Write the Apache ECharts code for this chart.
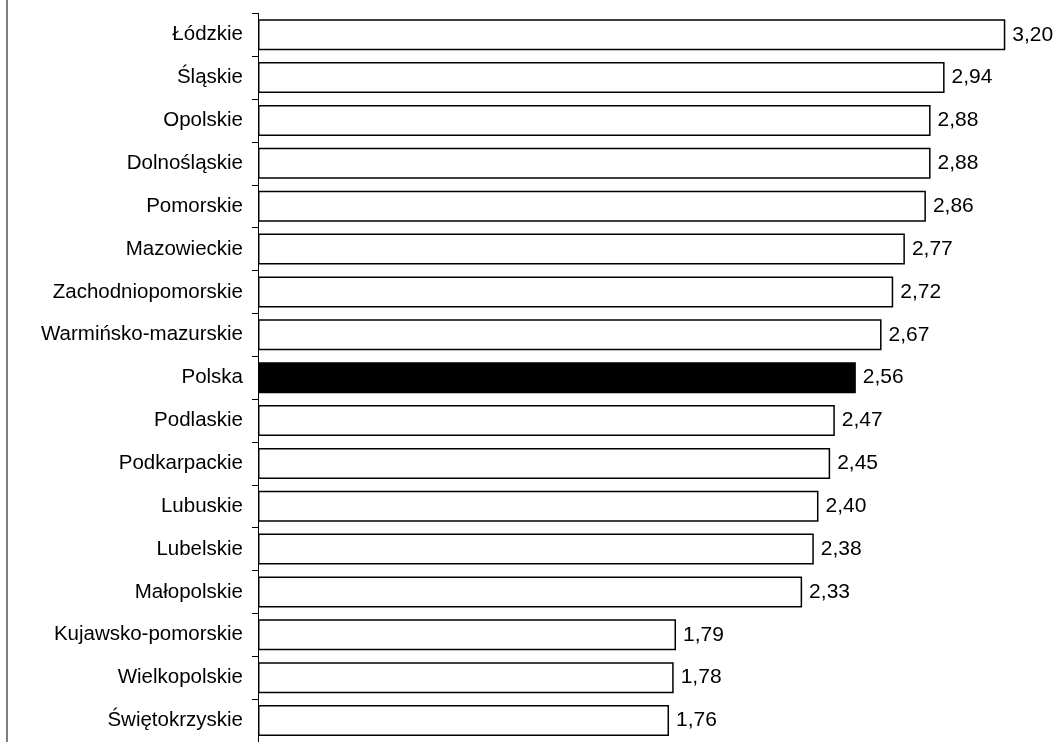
<!DOCTYPE html>
<html>
<head>
<meta charset="utf-8">
<script src="https://cdn.jsdelivr.net/npm/echarts@6/dist/echarts.min.js"></script>
<style>
html,body{margin:0;padding:0;background:#fff;}
#chart{width:1063px;height:742px;}
</style>
</head>
<body>
<div id="chart"></div>
<script>
const categories = ["Łódzkie","Śląskie","Opolskie","Dolnośląskie","Pomorskie","Mazowieckie","Zachodniopomorskie","Warmińsko-mazurskie","Polska","Podlaskie","Podkarpackie","Lubuskie","Lubelskie","Małopolskie","Kujawsko-pomorskie","Wielkopolskie","Świętokrzyskie"];
const values = [3.20,2.94,2.88,2.88,2.86,2.77,2.72,2.67,2.56,2.47,2.45,2.40,2.38,2.33,1.79,1.78,1.76];
const highlight = "Polska";

const chart = echarts.init(document.getElementById('chart'), null, {renderer:'canvas'});
const font = "'Liberation Sans', Arial, sans-serif";
chart.setOption({
  animation:false,
  backgroundColor:'#fff',
  grid:{left:258, right:11, top:13.3, height:732.5, containLabel:false},
  xAxis:{type:'value', min:0, max:3.4, show:false},
  yAxis:{
    type:'category', data:categories, inverse:true,
    axisLine:{show:true, lineStyle:{color:'#000', width:1}},
    axisTick:{show:true, length:6, lineStyle:{color:'#000', width:1}},
    axisLabel:{color:'#000', fontFamily:font, fontSize:20.5, margin:15}
  },
  graphic:[{type:'line', shape:{x1:7, y1:0, x2:7, y2:742}, style:{stroke:'#000', lineWidth:1}}],
  series:[{
    type:'bar',
    barWidth:31,
    data: values.map((v,i)=>({
      value:v,
      itemStyle:{color: categories[i]===highlight ? '#000' : '#fff', borderColor:'#000', borderWidth:1.5}
    })),
    label:{
      show:true, position:'right', distance:7, color:'#000', fontFamily:font, fontSize:21,
      formatter:p=>p.value.toFixed(2).replace('.',',')
    }
  }]
});
</script>
</body>
</html>
